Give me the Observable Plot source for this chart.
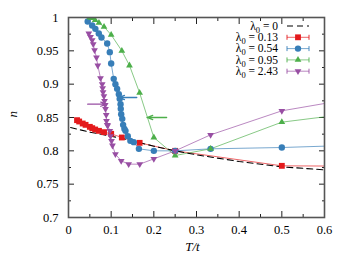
<!DOCTYPE html>
<html><head><meta charset="utf-8">
<script src="https://cdn.jsdelivr.net/npm/d3@7"></script>
<script src="https://cdn.jsdelivr.net/npm/@observablehq/plot@0.6"></script>
<style>
body{margin:0;background:#fff}
#wrap{position:relative;width:350px;height:262px}
#wrap svg, #wrap svg text, #wrap svg tspan{font-family:"Liberation Serif" !important}
#legend{position:absolute;left:0;top:0}
</style></head><body><div id="wrap"></div>
<script>
// ---- data ----
const xTicks = [0, 0.1, 0.2, 0.3, 0.4, 0.5, 0.6];
const xMinor = [0.05, 0.15, 0.25, 0.35, 0.45, 0.55];
const yTicks = [0.7, 0.75, 0.8, 0.85, 0.9, 0.95, 1];
const yMinor = [0.725, 0.775, 0.825, 0.875, 0.925, 0.975];
const xLabel = "T/t";
const yLabel = "n";

const legendLabels = ["0", "0.13", "0.54", "0.95", "2.43"];
const colors = ["#000000", "#e41a1c", "#377eb8", "#4daf4a", "#984ea3"];

// λ0 = 0 (dashed reference curve)
const tL0 = [0.005, 0.05, 0.1, 0.15, 0.2, 0.25, 0.3, 0.4, 0.5, 0.6];
const nL0 = [0.835, 0.828, 0.822, 0.815, 0.807, 0.800, 0.794, 0.784, 0.776, 0.7715];

// λ0 = 0.13
const tL1 = [0.02, 0.025, 0.0333, 0.04, 0.05, 0.0556, 0.0625, 0.0714, 0.0833, 0.1, 0.125, 0.1667, 0.25, 0.5, 1];
const nL1 = [0.846, 0.844, 0.841, 0.839, 0.836, 0.834, 0.832, 0.830, 0.828, 0.8255, 0.820, 0.812, 0.800, 0.7775, 0.776];

// λ0 = 0.54
const tL2 = [0.045, 0.0555, 0.063, 0.071, 0.0773, 0.0907, 0.0968, 0.100, 0.106, 0.110, 0.114, 0.118, 0.120, 0.122, 0.1225, 0.1235, 0.126, 0.128, 0.131, 0.1336, 0.139, 0.145, 0.153, 0.165, 0.2, 0.25, 0.333, 0.5, 1];
const nL2 = [0.994, 0.988, 0.983, 0.976, 0.970, 0.961, 0.948, 0.931, 0.908, 0.900, 0.893, 0.885, 0.878, 0.870, 0.863, 0.855, 0.848, 0.839, 0.833, 0.830, 0.822, 0.815, 0.813, 0.803, 0.800, 0.800, 0.803, 0.805, 0.815];

// λ0 = 0.95
const tL3 = [0.05, 0.055, 0.0625, 0.0714, 0.0833, 0.1, 0.125, 0.1429, 0.1667, 0.2, 0.25, 0.333, 0.5, 1];
const nL3 = [1.0, 0.999, 0.996, 0.992, 0.986, 0.974, 0.950, 0.928, 0.887, 0.820, 0.793, 0.803, 0.843, 0.883];

// λ0 = 2.43
const tL4 = [0.0476, 0.0516, 0.0555, 0.058, 0.061, 0.0656, 0.0687, 0.075, 0.079, 0.080, 0.081, 0.083, 0.0844, 0.086, 0.0867, 0.0884, 0.089, 0.0907, 0.092, 0.0968, 0.0984, 0.1008, 0.103, 0.110, 0.1235, 0.141, 0.167, 0.2, 0.25, 0.333, 0.5, 1];
const nL4 = [0.976, 0.971, 0.966, 0.960, 0.951, 0.940, 0.928, 0.909, 0.900, 0.894, 0.888, 0.882, 0.875, 0.869, 0.863, 0.854, 0.845, 0.839, 0.838, 0.830, 0.822, 0.815, 0.808, 0.795, 0.785, 0.780, 0.780, 0.788, 0.800, 0.824, 0.860, 0.915];

// annotation arrows
const arrowY = [0.87, 0.88, 0.85];
const arrowFrom = [0.045, 0.16, 0.23];
const arrowTo = [0.089, 0.118, 0.184];
const arrowColor = ["#984ea3", "#377eb8", "#4daf4a"];

// ---- build ----
const FONT = "Liberation Serif";
const zip = (xs, ys) => xs.map((x, i) => ({x, y: ys[i]}));
const s0 = zip(tL0, nL0), s1 = zip(tL1, nL1), s2 = zip(tL2, nL2), s3 = zip(tL3, nL3), s4 = zip(tL4, nL4);
const arrows = arrowY.map((y, i) => ({y, x1: arrowFrom[i], x2: arrowTo[i], c: arrowColor[i]}));
const fmt = d => String(+d.toFixed(3));
const triDown = {draw(ctx, size) {
  const y = Math.sqrt(size / (Math.sqrt(3) * 3)), s = Math.sqrt(3);
  ctx.moveTo(0, 2 * y); ctx.lineTo(-s * y, -y); ctx.lineTo(s * y, -y); ctx.closePath();
}};
const blank = () => "";
const lineOpts = (c) => ({x: "x", y: "y", stroke: c, strokeWidth: 0.9, strokeOpacity: 0.75, clip: true});

const chart = Plot.plot({
  width: 350, height: 262,
  marginLeft: 68, marginRight: 26, marginTop: 17, marginBottom: 45,
  style: {fontSize: "12.5px", fontFamily: FONT, color: "#000", background: "#fff"},
  x: {domain: [0, 0.6]},
  y: {domain: [0.7, 1]},
  marks: [
    Plot.axisX(xTicks, {anchor: "bottom", tickSize: 0, tickPadding: 8, tickFormat: fmt, label: null, fontSize: 12.5}),
    Plot.axisY(yTicks, {anchor: "left", tickSize: 0, tickPadding: 10, tickFormat: fmt, label: null, fontSize: 12.5}),
    Plot.text([xLabel], {text: d => d, frameAnchor: "bottom", dx: -4, dy: 33, fontStyle: "italic", fontSize: 13}),
    Plot.text([yLabel], {text: d => d, frameAnchor: "left", dx: -56, rotate: -90, fontStyle: "italic", fontSize: 13}),
    Plot.axisX(xTicks, {anchor: "bottom", tickSize: -6, tickFormat: blank, label: null, stroke: "#222"}),
    Plot.axisX(xTicks, {anchor: "top", tickSize: -6, tickFormat: blank, label: null, stroke: "#222"}),
    Plot.axisX(xMinor, {anchor: "bottom", tickSize: -3, tickFormat: blank, label: null, stroke: "#222"}),
    Plot.axisX(xMinor, {anchor: "top", tickSize: -3, tickFormat: blank, label: null, stroke: "#222"}),
    Plot.axisY(yTicks, {anchor: "left", tickSize: -6, tickFormat: blank, label: null, stroke: "#222"}),
    Plot.axisY(yTicks, {anchor: "right", tickSize: -6, tickFormat: blank, label: null, stroke: "#222"}),
    Plot.axisY(yMinor, {anchor: "left", tickSize: -3, tickFormat: blank, label: null, stroke: "#222"}),
    Plot.axisY(yMinor, {anchor: "right", tickSize: -3, tickFormat: blank, label: null, stroke: "#222"}),
    Plot.line(s1, lineOpts(colors[1])),
    Plot.line(s2, lineOpts(colors[2])),
    Plot.line(s3, lineOpts(colors[3])),
    Plot.line(s4, lineOpts(colors[4])),
    Plot.line(s0, {x: "x", y: "y", stroke: "#000", strokeWidth: 1.1, strokeDasharray: "6,4", clip: true}),
    Plot.dot(s1, {x: "x", y: "y", symbol: "square", r: 3.3, fill: colors[1], clip: true}),
    Plot.dot(s2, {x: "x", y: "y", symbol: "circle", r: 3.2, fill: colors[2], clip: true}),
    Plot.dot(s3, {x: "x", y: "y", symbol: "triangle", r: 2.5, fill: colors[3], clip: true}),
    Plot.dot(s4, {x: "x", y: "y", symbol: triDown, r: 2.5, fill: colors[4], clip: true}),
    Plot.arrow(arrows, {x1: "x1", x2: "x2", y1: "y", y2: "y", stroke: "c", strokeWidth: 1.3, headLength: 7, headAngle: 40}),
    Plot.frame({stroke: "#555", strokeWidth: 1.6})
  ]
});

const wrap = document.getElementById("wrap");
wrap.appendChild(chart);

// ---- legend overlay ----
const lg = d3.select(wrap).append("svg").attr("id", "legend").attr("width", 350).attr("height", 262)
  .style("font-size", "11.5px");
const symbols = [null, d3.symbolSquare, d3.symbolCircle, d3.symbolTriangle, triDown];
const sizes = [0, 34, 32, 20, 20];
legendLabels.forEach((lab, i) => {
  const y = 26 + i * 11.3;
  const t = lg.append("text").attr("x", 278).attr("y", y).attr("text-anchor", "end").attr("dy", "0.32em");
  t.append("tspan").text("λ");
  t.append("tspan").attr("font-size", "8.5px").attr("dy", "3").text("0");
  t.append("tspan").attr("dy", "-3").text(" = " + lab);
  if (i === 0) {
    lg.append("line").attr("x1", 287).attr("x2", 309).attr("y1", y).attr("y2", y)
      .attr("stroke", "#000").attr("stroke-width", 1.1).attr("stroke-dasharray", "6,4");
  } else {
    const c = colors[i];
    lg.append("line").attr("x1", 287).attr("x2", 309).attr("y1", y).attr("y2", y).attr("stroke", c).attr("stroke-width", 0.9).attr("stroke-opacity", 0.75);
    lg.append("line").attr("x1", 287).attr("x2", 287).attr("y1", y - 2.5).attr("y2", y + 2.5).attr("stroke", c).attr("stroke-width", 0.9);
    lg.append("line").attr("x1", 309).attr("x2", 309).attr("y1", y - 2.5).attr("y2", y + 2.5).attr("stroke", c).attr("stroke-width", 0.9);
    lg.append("path").attr("transform", `translate(298,${y})`).attr("d", d3.symbol(symbols[i], sizes[i])()).attr("fill", c);
  }
});
</script>
</body></html>
